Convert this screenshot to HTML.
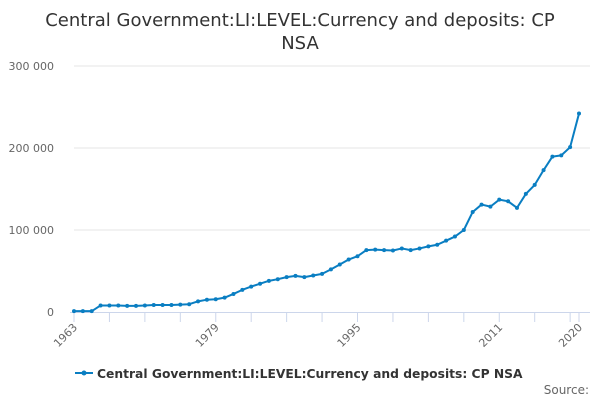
<!DOCTYPE html>
<html><head><meta charset="utf-8"><style>
body{margin:0;width:600px;height:400px;background:#fff;font-family:"Liberation Sans","DejaVu Sans",sans-serif;overflow:hidden}
</style></head><body>
<svg width="600" height="400" font-family="DejaVu Sans, Liberation Sans, sans-serif">
<text x="300" y="26" text-anchor="middle" font-size="18" fill="#333">Central Government:LI:LEVEL:Currency and deposits: CP</text>
<text x="300" y="49" text-anchor="middle" font-size="18" fill="#333">NSA</text>
<g id="grid"></g><g id="xaxis"></g><g id="series"></g>
<g>
<line x1="75" y1="373" x2="93" y2="373" stroke="#0a7ec2" stroke-width="2"/>
<circle cx="84" cy="373" r="2.5" fill="#0a7ec2"/>
<text x="97" y="378" font-size="12.3" font-weight="bold" fill="#333">Central Government:LI:LEVEL:Currency and deposits: CP NSA</text>
</g>
<text x="589" y="394" text-anchor="end" font-size="12" fill="#666">Source:</text>
</svg>
<script>
const years=[];for(let y=1963;y<=2020;y++)years.push(y);
const values=[1000,1000,1000,8000,8000,8000,7500,7500,8000,8500,8500,8500,9000,9500,13000,15000,15500,17500,22000,27000,31000,34500,38000,40000,42500,44000,42500,44500,46500,52000,58000,64000,68000,75500,76000,75500,75000,77500,75500,77500,80000,82000,87000,92000,100000,122000,131000,128500,137000,135000,127000,144000,155000,173000,189500,191000,201000,242000];
const yTicks=[0,100000,200000,300000];
const yTickLabels=["0","100 000","200 000","300 000"];
const xLabelYears=[1963,1979,1995,2011,2020];
const ns="http://www.w3.org/2000/svg";
const X=y=>74+(y-1963)*(505/57);
const Y=v=>312-v*82/100000;
function mk(t,a,p){const e=document.createElementNS(ns,t);for(const k in a)e.setAttribute(k,a[k]);p.appendChild(e);return e;}
const g=document.getElementById('grid'),xa=document.getElementById('xaxis'),s=document.getElementById('series');
yTicks.forEach((v,i)=>{
 if(v>0){const l=mk('line',{x1:74,x2:590,y1:Y(v),y2:Y(v),stroke:'#e6e6e6'},g);
 
 }
 const t=mk('text',{x:54,y:Y(v)+4,'text-anchor':'end','font-size':11,fill:'#666'},g);t.textContent=yTickLabels[i];
 
 
});
const ax=mk('line',{x1:70,x2:590,y1:312.5,y2:312.5,stroke:'#ccd6eb'},xa);


for(let y=1963;y<=2020;y+=4){mk('line',{x1:X(y),x2:X(y),y1:312,y2:322,stroke:'#ccd6eb'},xa);}
mk('line',{x1:X(2020),x2:X(2020),y1:312,y2:322,stroke:'#ccd6eb'},xa);
xLabelYears.forEach(y=>{const t=mk('text',{x:X(y)+4,y:328,'text-anchor':'end','font-size':11,fill:'#666',transform:`rotate(-45 ${X(y)+4} 328)`},xa);t.textContent=y;
 
 });
const pl=mk('polyline',{points:values.map((v,i)=>X(years[i])+','+Y(v)).join(' '),fill:'none',stroke:'#0a7ec2','stroke-width':2,'stroke-linejoin':'round'},s);


values.forEach((v,i)=>{const c=mk('circle',{cx:X(years[i]),cy:Y(v),r:2,fill:'#0a7ec2'},s);
 
 });
</script>
</body></html>
